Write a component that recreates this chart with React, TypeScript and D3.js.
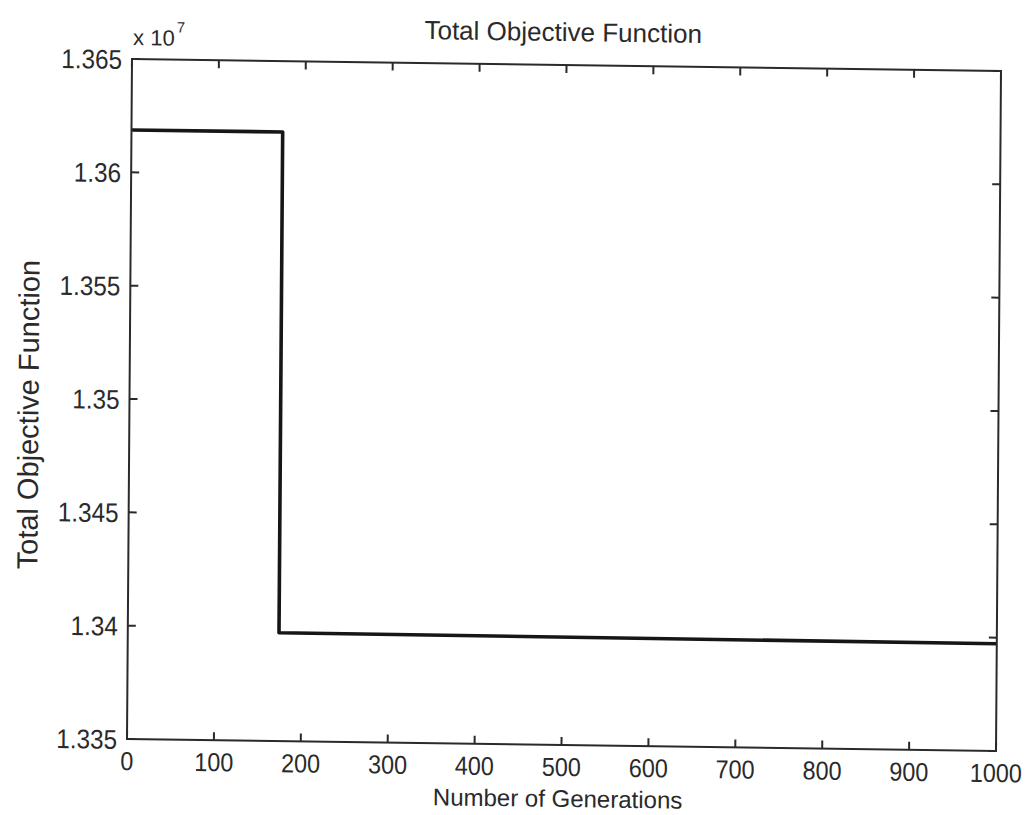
import React from "react";
import * as d3 from "d3";

const generations = [0, 174, 174, 1000];
const objective = [13618700, 13618700, 13397800, 13397300];
const xTicks = [0, 100, 200, 300, 400, 500, 600, 700, 800, 900, 1000];
const yTicks = [1.335e7, 1.34e7, 1.345e7, 1.35e7, 1.355e7, 1.36e7, 1.365e7];
const yTickLabels = ["1.335", "1.34", "1.345", "1.35", "1.355", "1.36", "1.365"];
const title = "Total Objective Function";
const xLabel = "Number of Generations";
const yLabel = "Total Objective Function";

export default function App() {
  const W = 1025, H = 815;
  // local plot frame (scan is slightly skewed; applied as a transform)
  const PW = 869, PH = 680;
  const x = d3.scaleLinear().domain([0, 1000]).range([0, PW]);
  const y = d3.scaleLinear().domain([1.335e7, 1.365e7]).range([PH, 0]);
  const line = d3.line<number>().x((_, i) => x(generations[i])).y((d) => y(d));
  const font = "'Liberation Sans', Arial, Helvetica, sans-serif";
  const ink = "#2a2a2a";
  const tl = 8;
  return (
    <svg width={W} height={H} style={{ position: "absolute", left: 0, top: 0, background: "#fff" }}>
      <rect x={0} y={0} width={W} height={H} fill="#fff" />
      <g transform="matrix(1, 0.0138, -0.00735, 1, 132, 59)">
        <text x={431} y={-24} textAnchor="middle" fontFamily={font} fontSize={26} fill={ink}>{title}</text>
        <path d={line(objective) || ""} fill="none" stroke="#161616" strokeWidth={3.6} strokeLinejoin="round" />
        <rect x={0} y={0} width={PW} height={PH} fill="none" stroke={ink} strokeWidth={2} />
        {xTicks.map((t) => (
          <g key={"x" + t}>
            <line x1={x(t)} x2={x(t)} y1={PH} y2={PH - tl} stroke={ink} strokeWidth={2} />
            <line x1={x(t)} x2={x(t)} y1={0} y2={tl} stroke={ink} strokeWidth={2} />
            <text transform={`translate(${x(t)}, ${PH + 31}) scale(0.9, 1)`} textAnchor="middle" fontFamily={font} fontSize={26} fill={ink}>{t}</text>
          </g>
        ))}
        {yTicks.map((t, i) => (
          <g key={"y" + i}>
            <line x1={0} x2={tl} y1={y(t)} y2={y(t)} stroke={ink} strokeWidth={2} />
            <line x1={PW} x2={PW - tl} y1={y(t)} y2={y(t)} stroke={ink} strokeWidth={2} />
            <text transform={`translate(-10, ${y(t) + 10}) scale(0.9, 1)`} textAnchor="end" fontFamily={font} fontSize={27} fill={ink}>{yTickLabels[i]}</text>
          </g>
        ))}
        <text x={1} y={-14} fontFamily={font} fontSize={22} fill={ink}>x 10<tspan dx={2} dy={-13} fontSize={15}>7</tspan></text>
        <text x={431} y={742} textAnchor="middle" fontFamily={font} fontSize={24} fill={ink}>{xLabel}</text>
        <text transform={`translate(-91, 357) rotate(-90)`} textAnchor="middle" fontFamily={font} fontSize={29} fill={ink}>{yLabel}</text>
      </g>
    </svg>
  );
}
